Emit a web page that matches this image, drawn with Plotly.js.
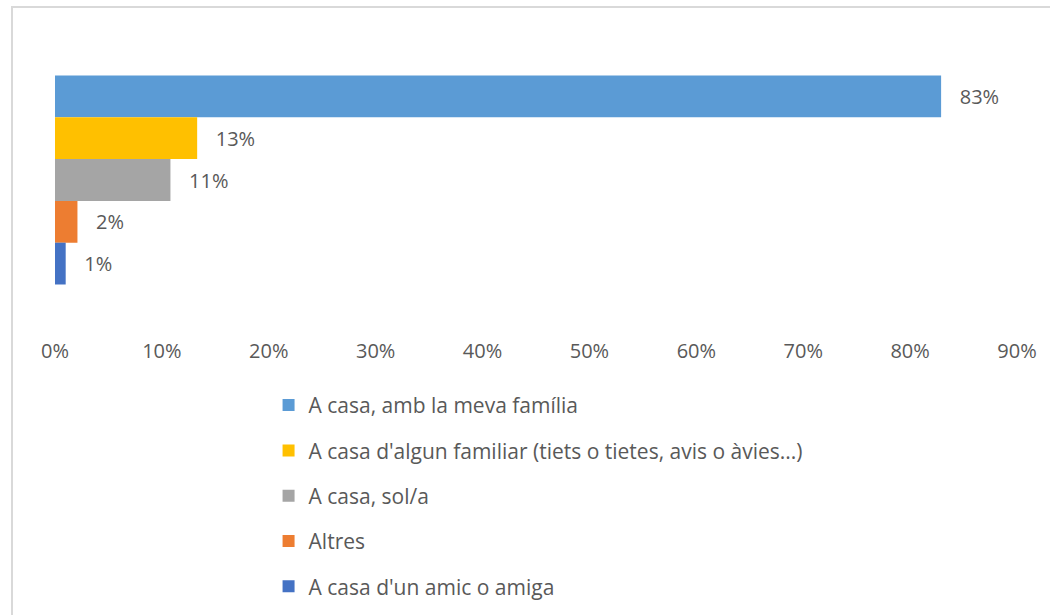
<!DOCTYPE html>
<html>
<head>
<meta charset="utf-8">
<script src="https://cdn.plot.ly/plotly-3.0.1.min.js"></script>
<style>
  html, body { margin: 0; padding: 0; background: #ffffff; overflow: hidden; }
  #frame { position: absolute; left: 11px; top: 6px; width: 1100px; height: 700px; border: 2px solid #d9d9d9; box-sizing: border-box; }
  #chart { position: absolute; left: 0; top: 0; width: 1050px; height: 615px; }
</style>
</head>
<body>
<div id="frame"></div>
<div id="chart"></div>
<script>
// Data
var category = ['Resposta'];
var seriesNames = [
  'A casa, amb la meva família',
  "A casa d'algun familiar (tiets o tietes, avis o àvies...)",
  'A casa, sol/a',
  'Altres',
  "A casa d'un amic o amiga"
];
var seriesValues = [0.829, 0.133, 0.108, 0.021, 0.010];
var seriesColors = ['#5B9BD5', '#FFC000', '#A5A5A5', '#ED7D31', '#4472C4'];
var tickValues = [0, 0.1, 0.2, 0.3, 0.4, 0.5, 0.6, 0.7, 0.8, 0.9];
var tickLabels = ['0%', '10%', '20%', '30%', '40%', '50%', '60%', '70%', '80%', '90%'];

var fontFamily = 'Open Sans, Noto Sans, sans-serif';
var textColor = '#595959';

var traces = seriesNames.map(function (name, i) {
  return {
    type: 'bar',
    orientation: 'h',
    name: name,
    legendgroup: 'g' + i,
    y: category,
    x: [seriesValues[i]],
    marker: { color: seriesColors[i], line: { width: 0 } },
    texttemplate: '\u00a0\u00a0\u00a0%{x:.0%}',
    textposition: 'outside',
    cliponaxis: false,
    textfont: { family: fontFamily, size: 20, color: textColor },
    hoverinfo: 'name+x'
  };
});

var layout = {
  width: 1050,
  height: 615,
  paper_bgcolor: 'rgba(0,0,0,0)',
  plot_bgcolor: 'rgba(0,0,0,0)',
  margin: { l: 55, r: 33, t: 40, b: 295, autoexpand: false },
  barmode: 'group',
  bargap: 0.2536,
  bargroupgap: 0,
  showlegend: true,
  font: { family: fontFamily, size: 20, color: textColor },
  xaxis: {
    range: [0, 0.9],
    tickvals: tickValues,
    ticktext: tickLabels,
    showgrid: false,
    zeroline: false,
    showline: false,
    ticks: '',
    ticklabelstandoff: 17,
    tickfont: { family: fontFamily, size: 20, color: textColor },
    fixedrange: true
  },
  yaxis: {
    autorange: 'reversed',
    showticklabels: false,
    showgrid: false,
    zeroline: false,
    showline: false,
    ticks: '',
    fixedrange: true
  },
  legend: {
    orientation: 'v',
    x: 0.222,
    xanchor: 'left',
    y: -0.232,
    yanchor: 'top',
    traceorder: 'grouped',
    tracegroupgap: 15,
    font: { family: fontFamily, size: 21, color: textColor },
    bgcolor: 'rgba(0,0,0,0)'
  }
};

Plotly.newPlot('chart', traces, layout, { displayModeBar: false, staticPlot: true });
</script>
</body>
</html>
